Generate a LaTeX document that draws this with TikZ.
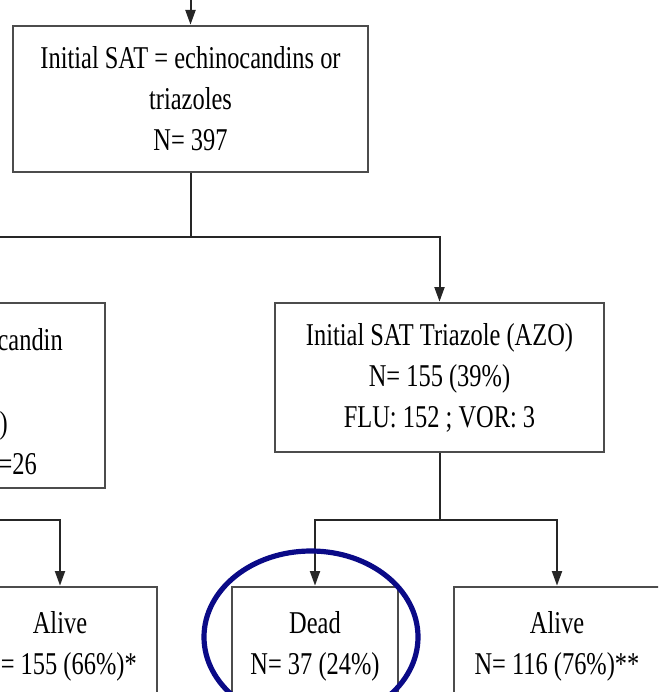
\documentclass[tikz,border=0pt]{standalone}
\usepackage{fontspec}
\setmainfont[FakeStretch=0.77]{Liberation Serif}
\usetikzlibrary{arrows.meta}

\definecolor{ringblue}{RGB}{10,10,135}

\tikzset{
  box/.style={draw=black!70, line width=2pt, fill=white, align=center, inner sep=0pt},
  wire/.style={draw=black!85, line width=1.5pt},
  arr/.style={wire, -{Triangle[length=11pt,width=7.5pt]}},
  frag/.style={anchor=base east, inner sep=0pt},
  txt/.style={font=\fontsize{23.8}{30.75}\selectfont}
}

\begin{document}
\begin{tikzpicture}[x=0.75pt,y=-0.75pt,txt]

\useasboundingbox (0,0) rectangle (658,692);
\clip (0,0) rectangle (658,692);

% top box
\node[box, minimum width=266.25pt, minimum height=109.5pt] (top) at (190.5,99)
  {Initial SAT = echinocandins or\\triazoles\\N= 397};
\coordinate (entry) at (190.5,-5);
\draw[arr] (entry) -- (top.north);

% second row
\node[box, minimum width=247.5pt, minimum height=138.75pt] (echi) at (-60,395.5) {};
\node[frag] (echia) at (63,350) {candin};
\node[frag] (echib) at (8,433) {)};
\node[frag] (echic) at (37,474) {=26};

\node[box, minimum width=246.75pt, minimum height=111.75pt] (tri) at (439.5,377.5)
  {Initial SAT Triazole (AZO)\\N= 155 (39\%)\\FLU: 152 ; VOR: 3};

\draw[wire] (top.south) -- ++(0,64) coordinate (split);
\draw[arr] (split) -| (tri.north);
\draw[arr] (split) -| (echi.north);

% outcome boxes
\node[box, minimum width=145.5pt, minimum height=88.5pt] (aliveL) at (60,646)
  {Alive\\\phantom{N}= 155 (66\%)*};
\node[box, minimum width=124.5pt, minimum height=88.5pt] (dead) at (315,646)
  {Dead\\N= 37 (24\%)};
\node[box, minimum width=154.5pt, minimum height=88.5pt] (aliveR) at (557,646)
  {Alive\\N= 116 (76\%)**};

\draw[wire] (echi.south) -- ++(0,31) coordinate (splitL);
\draw[arr] (splitL) -| (aliveL.north);

\draw[wire] (tri.south) -- ++(0,67) coordinate (splitR);
\draw[arr] (splitR) -| (dead.north);
\draw[arr] (splitR) -| (aliveR.north);

% highlight
\draw[ringblue, line width=3.9pt] (311,637) ellipse [x radius=80.25pt, y radius=64.5pt];

\end{tikzpicture}
\end{document}
